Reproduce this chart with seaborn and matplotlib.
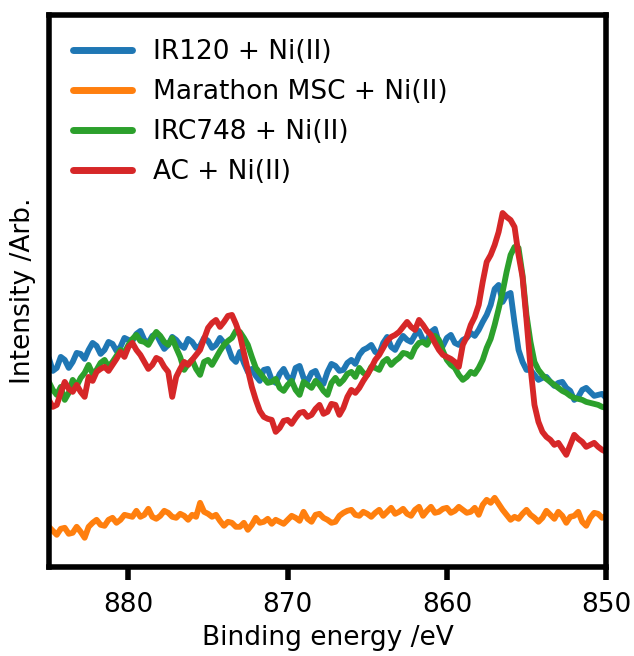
import numpy as np
import pandas as pd
import matplotlib
matplotlib.use("Agg")
import matplotlib.pyplot as plt
import seaborn as sns

# Binding energy sampling (eV), 0.25 eV step
energy = list(np.linspace(885.0, 850.0, 141))

labels = ["IR120 + Ni(II)", "Marathon MSC + Ni(II)", "IRC748 + Ni(II)", "AC + Ni(II)"]
colors = ["#1f77b4", "#ff7f0e", "#2ca02c", "#d62728"]

# Intensities (arb. units)
ir120 = [209, 196, 199, 210, 207, 199, 205, 214, 213, 208,
         217, 224, 221, 213, 217, 225, 223, 216, 220, 229,
         227, 226, 233, 236, 227, 224, 231, 233, 225, 218,
         222, 230, 227, 222, 219, 228, 225, 219, 221, 229,
         226, 219, 222, 229, 224, 220, 209, 205, 215, 204,
         195, 198, 191, 186, 197, 198, 187, 184, 193, 198,
         190, 186, 199, 201, 189, 186, 194, 196, 187, 183,
         195, 203, 201, 196, 197, 204, 207, 203, 212, 217,
         219, 222, 215, 213, 224, 230, 220, 217, 225, 231,
         227, 225, 232, 236, 227, 226, 235, 238, 224, 221,
         229, 232, 224, 222, 227, 229, 234, 231, 237, 245,
         252, 262, 278, 282, 265, 272, 274, 244, 217, 205,
         197, 197, 192, 187, 189, 190, 185, 181, 184, 185,
         179, 176, 167, 170, 177, 179, 175, 171, 172, 173,
         169]
marathon = [40, 36, 32, 38, 39, 33, 34, 40, 35, 29,
            40, 44, 47, 42, 41, 47, 49, 44, 47, 52,
            51, 50, 56, 50, 52, 58, 50, 48, 51, 56,
            54, 50, 49, 53, 51, 47, 52, 50, 64, 55,
            53, 50, 52, 46, 41, 45, 44, 40, 40, 44,
            37, 42, 49, 44, 45, 48, 43, 47, 45, 43,
            47, 51, 49, 46, 55, 48, 45, 52, 53, 49,
            47, 44, 45, 51, 54, 56, 57, 52, 51, 55,
            53, 50, 54, 57, 51, 55, 59, 53, 55, 58,
            53, 51, 57, 60, 51, 56, 60, 54, 55, 58,
            59, 54, 56, 60, 57, 54, 55, 59, 52, 62,
            67, 64, 69, 63, 57, 52, 47, 50, 48, 53,
            57, 52, 49, 45, 49, 56, 52, 48, 55, 51,
            44, 50, 51, 55, 45, 41, 49, 54, 53, 49,
            51]
irc748 = [185, 177, 172, 180, 167, 174, 187, 181, 189, 194,
          202, 193, 197, 204, 207, 200, 205, 211, 217, 214,
          222, 228, 232, 226, 225, 222, 229, 235, 231, 225,
          222, 229, 219, 210, 197, 203, 207, 198, 192, 205,
          207, 202, 209, 216, 222, 226, 229, 236, 235, 229,
          222, 210, 199, 194, 189, 184, 185, 188, 179, 176,
          182, 186, 177, 172, 185, 182, 179, 186, 182, 176,
          172, 184, 189, 183, 187, 193, 195, 190, 199, 194,
          192, 200, 199, 197, 205, 208, 202, 206, 209, 214,
          213, 210, 219, 224, 225, 222, 229, 231, 227, 216,
          207, 202, 199, 192, 187, 190, 195, 193, 199, 207,
          219, 228, 242, 258, 275, 295, 312, 320, 319, 292,
          252, 225, 205, 197, 192, 188, 185, 182, 179, 176,
          174, 171, 169, 168, 167, 165, 164, 163, 162, 160,
          159]
ac = [167, 160, 162, 174, 185, 178, 175, 182, 175, 170,
      190, 186, 195, 198, 200, 196, 202, 208, 215, 210,
      220, 224, 217, 212, 205, 198, 202, 209, 207, 200,
      195, 170, 190, 198, 205, 202, 207, 212, 217, 228,
      239, 244, 247, 240, 245, 251, 252, 243, 232, 214,
      197, 180, 167, 156, 150, 148, 147, 135, 139, 146,
      147, 143, 149, 154, 155, 150, 152, 158, 162, 153,
      155, 163, 162, 152, 159, 170, 177, 174, 179, 186,
      192, 199, 207, 212, 219, 226, 230, 232, 235, 240,
      245, 240, 237, 247, 242, 236, 232, 224, 217, 212,
      210, 208, 205, 200, 222, 230, 242, 250, 262, 285,
      305, 312, 322, 335, 354, 350, 347, 340, 312, 290,
      247, 200, 162, 145, 135, 130, 127, 122, 124, 118,
      112, 122, 132, 128, 125, 120, 122, 124, 120, 117,
      115]

series = [ir120, marathon, irc748, ac]
rows = []
for lab, vals in zip(labels, series):
    for e, v in zip(energy, vals):
        rows.append({"Binding energy": e, "Intensity": v, "Sample": lab})
df = pd.DataFrame(rows)

sns.set_style("ticks", rc={"axes.edgecolor": "black", "text.color": "black",
                           "axes.labelcolor": "black", "xtick.color": "black",
                           "ytick.color": "black"})
plt.rcParams["font.family"] = ["DejaVu Sans"]

fig = plt.figure(figsize=(6.34, 6.56), dpi=100)
ax = fig.add_axes([0.077, 0.136, 0.879, 0.841])

sns.lineplot(data=df, x="Binding energy", y="Intensity", hue="Sample",
             hue_order=labels, palette=colors, linewidth=4.2, ax=ax,
             sort=False, estimator=None)

ax.set_xlim(885, 850)
ax.set_ylim(0, 552)
ax.set_xticks([880, 870, 860, 850])
ax.set_yticks([])
ax.set_xlabel("Binding energy /eV", fontsize=19, labelpad=5)
ax.set_ylabel("Intensity /Arb.", fontsize=19, labelpad=9)
ax.tick_params(axis="x", labelsize=19, width=4, length=9, pad=9, colors="black")
for s in ax.spines.values():
    s.set_linewidth(4)
    s.set_visible(True)
    s.set_color("black")

leg = ax.legend(loc="upper left", frameon=False, fontsize=19,
                handlelength=2.27, handletextpad=0.76, labelspacing=0.53)
for line in leg.get_lines():
    line.set_linewidth(5)

fig.savefig("out.png", dpi=100)
